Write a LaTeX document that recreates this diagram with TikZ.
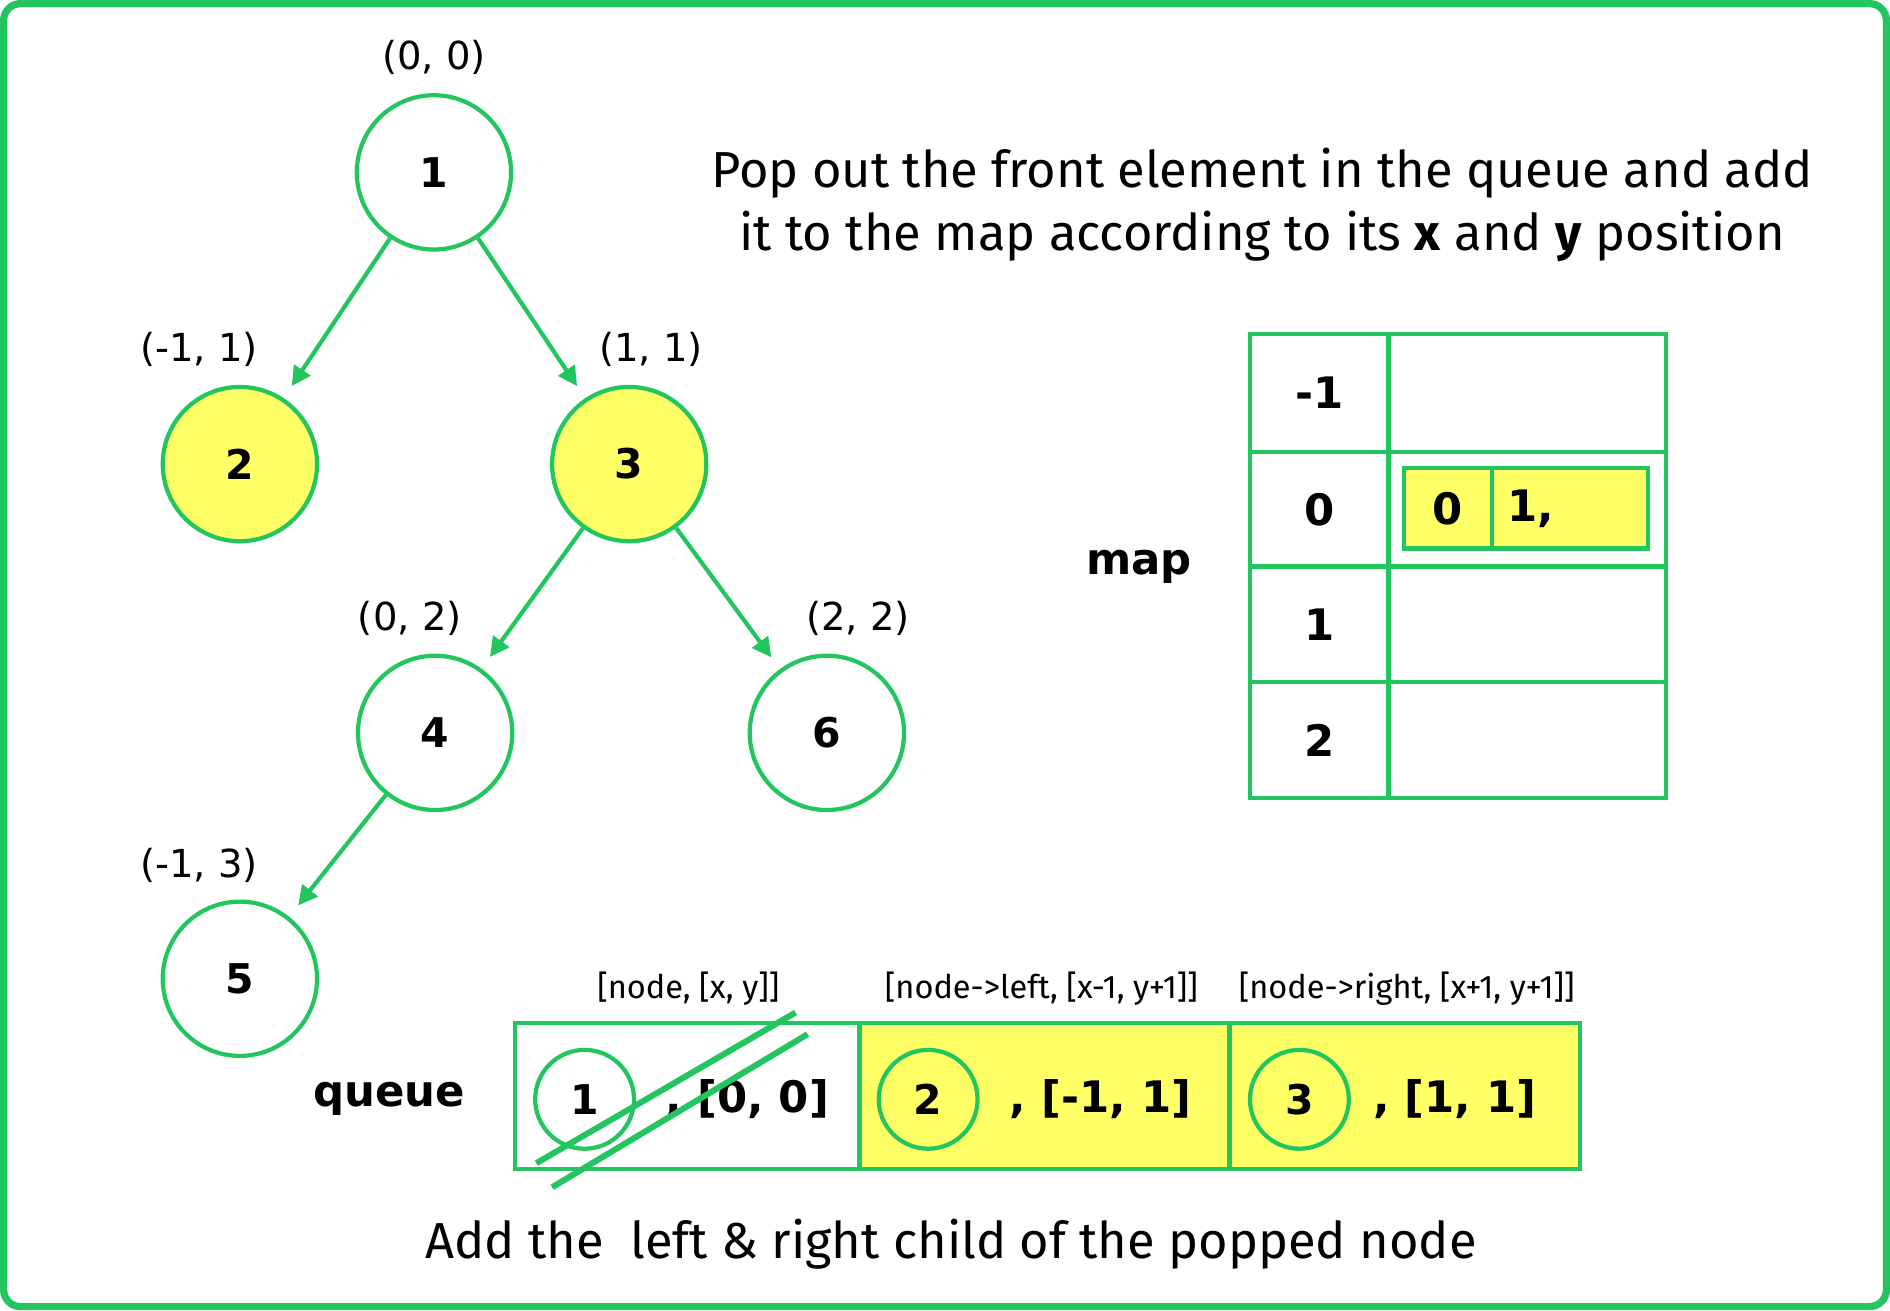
\documentclass[tikz,border=0pt]{standalone}
\usepackage{fontspec}
\setmainfont{Fira Sans}
\newfontfamily\dv{DejaVu Sans}
\usetikzlibrary{arrows.meta}
\definecolor{gr}{HTML}{22C55E}
\definecolor{yl}{HTML}{FFFF66}
\begin{document}
\begin{tikzpicture}[x=1pt,y=-1pt,
  circ/.style={circle,draw=gr,line width=3.5pt,minimum size=128pt,font=\dv\bfseries\fontsize{34}{38}\selectfont},
  small/.style={circle,draw=gr,line width=3.5pt,minimum size=82pt,font=\dv\bfseries\fontsize{34}{38}\selectfont},
  lab/.style={font=\dv\fontsize{32}{36}\selectfont},
  big/.style={font=\dv\bfseries\fontsize{36}{40}\selectfont},
  hdr/.style={font=\fontsize{27}{30}\selectfont},
  arr/.style={draw=gr,line width=3.5pt,-{Triangle[length=16pt,width=16pt]}},
  cell/.style={draw=gr,line width=3.5pt}]
\useasboundingbox (0,0) rectangle (1568,1087);
\draw[gr,line width=6pt,rounded corners=14pt] (3,3) rectangle (1565,1084);
\node[circ] (n1) at (360,143) {1};
\node[circ,fill=yl] (n2) at (199,385) {2};
\node[circ,fill=yl] (n3) at (522,385) {3};
\node[circ] (n4) at (361,608) {4};
\node[circ] (n6) at (686,608) {6};
\node[circ] (n5) at (199,812) {5};
\node[lab] (l1) at (360,48) {(0, 0)};
\node[lab] (l2) at (165,290) {(-1, 1)};
\node[lab] (l3) at (540,290) {(1, 1)};
\node[lab] (l4) at (340,513) {(0, 2)};
\node[lab] (l6) at (712,513) {(2, 2)};
\node[lab] (l5) at (165,718) {(-1, 3)};
\draw[arr,shorten >=12pt] (n1) -- (n2);
\draw[arr,shorten >=12pt] (n1) -- (n3);
\draw[arr,shorten >=12pt] (n3) -- (n4);
\draw[arr,shorten >=12pt] (n3) -- (n6);
\draw[arr,shorten >=12pt] (n4) -- (n5);
\node[font=\fontsize{42}{50}\selectfont,align=center] (t1) at (1047,170) {Pop out the front element in the queue and add\\[2pt] it to the map according to its \textbf{x} and \textbf{y} position};
% map
\draw[cell] (1037,277) rectangle (1382,662);
\draw[cell] (1152,277) -- (1152,662);
\foreach \y in {375,470,566} \draw[cell] (1037,\y) -- (1382,\y);
\node[big] (m1) at (1095,326) {-1};
\node[big] (m0) at (1095,423) {0};
\node[big] (m2) at (1095,518) {1};
\node[big] (m3) at (1095,614) {2};
\node[big] (map) at (945,470) {map};
\draw[cell,fill=yl] (1165,388) rectangle (1367,455);
\draw[cell] (1238,388) -- (1238,455);
\node[big] (c0) at (1201,422) {0};
\node[big] (c1) at (1270,422) {1,};
% queue
\fill[yl] (713,849) rectangle (1311,970);
\draw[cell] (427,849) rectangle (1311,970);
\draw[cell] (713,849) -- (713,970);
\draw[cell] (1020,849) -- (1020,970);
\node[big] (q) at (323,912) {queue};
\node[hdr] (h1) at (571,820) {[node, [x, y]]};
\node[hdr] (h2) at (864,820) {[node->left, [x-1, y+1]]};
\node[hdr] (h3) at (1167,820) {[node->right, [x+1, y+1]]};
\node[small] (q1) at (485,912) {1};
\node[big] (q1t) at (620,912) {, [0, 0]};
\node[small] (q2) at (770,912) {2};
\node[big] (q2t) at (913,912) {, [-1, 1]};
\node[small] (q3) at (1078,912) {3};
\node[big] (q3t) at (1207,912) {, [1, 1]};
\draw[gr,line width=5pt] (445,965) -- (660,840);
\draw[gr,line width=5pt] (458,985) -- (670,858);
\node[font=\fontsize{42}{50}\selectfont] (b) at (789,1032) {Add the\ \ left \& right child of the popped node};
\end{tikzpicture}
\end{document}
